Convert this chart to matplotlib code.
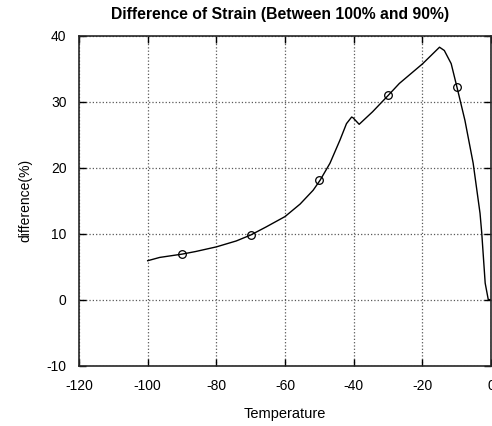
import matplotlib.pyplot as plt
import numpy as np

plt.rcParams['font.family'] = ['Liberation Sans', 'DejaVu Sans']
plt.rcParams['axes.unicode_minus'] = False

# curve
temp_curve = [-100, -96.5, -90, -86, -80, -74.2, -70, -65.6, -60, -55.6, -51.8,
              -49.8, -46.9, -44, -42.1, -40.6, -40.2, -38.4, -34.5, -30.1,
              -26.7, -19.9, -15, -13.6, -11.6, -9.9, -7.6, -5.2, -3.2, -2.7,
              -1.7, -0.8, 0]
diff_curve = [5.9, 6.4, 6.9, 7.3, 8.0, 8.9, 9.8, 11.0, 12.6, 14.5, 16.6,
              18.1, 20.7, 24.2, 26.7, 27.7, 27.6, 26.6, 28.5, 30.9,
              32.8, 35.8, 38.3, 37.8, 35.8, 32.2, 27.2, 20.7, 13.1, 10.1,
              2.5, 0.0, 0.0]

# circle markers
temp_marks = [-90, -70, -50, -30, -10]
diff_marks = [6.9, 9.8, 18.1, 31.0, 32.2]

xticks = [-120, -100, -80, -60, -40, -20, 0]
yticks = [-10, 0, 10, 20, 30, 40]

fig = plt.figure(figsize=(4.92, 4.26), dpi=100)
ax = fig.add_axes([0.1606, 0.142, 0.8374, 0.7735])

ax.plot(temp_curve, diff_curve, color='black', linewidth=1.0)
ax.plot(temp_marks, diff_marks, linestyle='none', marker='o', markersize=5.5,
        markerfacecolor='none', markeredgecolor='black', markeredgewidth=0.9)

ax.set_xlim(-120, 0)
ax.set_ylim(-10, 40)
ax.set_xticks(xticks)
ax.set_yticks(yticks)
ax.tick_params(direction='in', length=5, width=1, top=True, right=True,
               labelsize=10, colors='black')
ax.tick_params(axis='x', pad=10)
ax.tick_params(axis='y', pad=9)
ax.grid(True, linestyle=':', color='0.35', linewidth=0.9)
for sp in ax.spines.values():
    sp.set_linewidth(1.2)
    sp.set_color('0.15')

ax.set_title('Difference of Strain (Between 100% and 90%)', fontsize=11.3,
             fontweight='bold', pad=12, x=0.488)
ax.set_xlabel('Temperature', fontsize=10.5, labelpad=10)
ax.set_ylabel('difference(%)', fontsize=10, labelpad=10)

fig.savefig('out.png', dpi=100)
